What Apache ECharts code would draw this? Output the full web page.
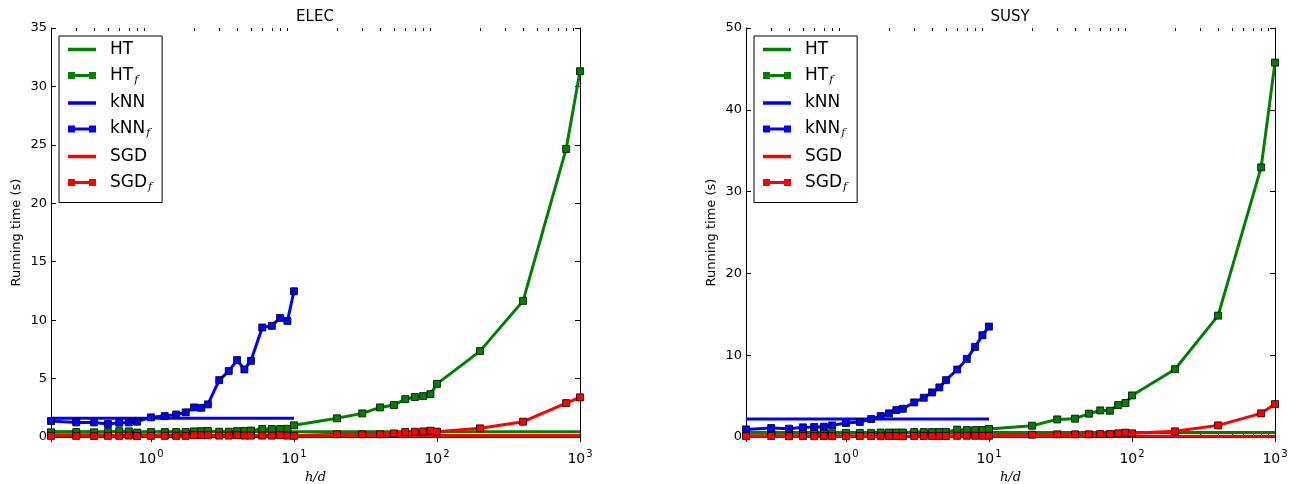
<!DOCTYPE html>
<html>
<head>
<meta charset="utf-8">
<script src="https://cdn.jsdelivr.net/npm/echarts@6/dist/echarts.min.js"></script>
<style>
  html, body { margin: 0; padding: 0; background: #fff; }
  #main { width: 1299px; height: 484px; }
</style>
</head>
<body>
<div id="main"></div>
<script>
// h/d values where the running time was measured
var xAll = [0.2, 0.3, 0.4, 0.5, 0.6, 0.7, 0.8, 1, 1.25, 1.5, 1.75, 2, 2.25, 2.5, 3, 3.5, 4, 4.5, 5, 6, 7, 8, 9, 10,
            20, 30, 40, 50, 60, 70, 80, 90, 100, 200, 400, 800, 1000];
var xKnn = [0.2, 0.3, 0.4, 0.5, 0.6, 0.7, 0.8, 1, 1.25, 1.5, 1.75, 2, 2.25, 2.5, 3, 3.5, 4, 4.5, 5, 6, 7, 8, 9, 10];
// the flat reference lines span these x ranges
var xFlat = [0.2, 1000];
var xFlatKnn = [0.2, 10];

// ELEC
var elecHT = [0.45, 0.45];
var elecKnn = [1.6, 1.6];
var elecSGD = [0.12, 0.12];
var elecHTf = [0.4, 0.42, 0.4, 0.42, 0.5, 0.48, 0.38, 0.42, 0.42, 0.42, 0.42, 0.48, 0.5, 0.52, 0.45, 0.45, 0.5, 0.52, 0.55, 0.68, 0.68, 0.68, 0.7, 1.0,
               1.6, 2.02, 2.53, 2.73, 3.24, 3.42, 3.5, 3.67, 4.55, 7.35, 11.65, 24.65, 31.3];
var elecKnnf = [1.37, 1.25, 1.25, 1.11, 1.22, 1.25, 1.31, 1.68, 1.79, 1.93, 2.11, 2.53, 2.5, 2.79, 4.87, 5.64, 6.58, 5.78, 6.52, 9.37, 9.51, 10.19, 9.93, 12.47];
var elecSGDf = [0.1, 0.1, 0.08, 0.1, 0.1, 0.12, 0.08, 0.1, 0.1, 0.1, 0.1, 0.15, 0.15, 0.15, 0.12, 0.12, 0.15, 0.12, 0.12, 0.12, 0.12, 0.15, 0.12, 0.1,
                0.23, 0.23, 0.23, 0.31, 0.43, 0.45, 0.48, 0.54, 0.46, 0.74, 1.31, 2.9, 3.39];

// SUSY
var susyHT = [0.55, 0.55];
var susyKnn = [2.2, 2.2];
var susySGD = [0.1, 0.1];
var susyHTf = [0.5, 0.45, 0.45, 0.45, 0.5, 0.5, 0.45, 0.5, 0.5, 0.5, 0.55, 0.55, 0.55, 0.55, 0.6, 0.6, 0.6, 0.62, 0.62, 0.9, 0.85, 0.85, 0.85, 0.98,
               1.38, 2.15, 2.24, 2.85, 3.25, 3.21, 3.9, 4.15, 5.08, 8.29, 14.84, 32.96, 45.77];
var susyKnnf = [0.93, 1.1, 1.02, 1.18, 1.22, 1.26, 1.42, 1.71, 1.83, 2.2, 2.56, 2.89, 3.29, 3.45, 4.23, 4.8, 5.45, 6.06, 6.95, 8.25, 9.55, 11.02, 12.44, 13.5];
var susySGDf = [0.1, 0.12, 0.1, 0.12, 0.1, 0.12, 0.1, 0.1, 0.12, 0.12, 0.1, 0.12, 0.12, 0.1, 0.12, 0.12, 0.12, 0.12, 0.12, 0.15, 0.15, 0.15, 0.15, 0.15,
                0.28, 0.33, 0.33, 0.33, 0.37, 0.37, 0.45, 0.53, 0.45, 0.69, 1.42, 2.89, 4.02];

// log-axis minor ticks (2..9 of each decade)
var minorTicks = [0.3, 0.4, 0.5, 0.6, 0.7, 0.8, 0.9, 2, 3, 4, 5, 6, 7, 8, 9,
                  20, 30, 40, 50, 60, 70, 80, 90, 200, 300, 400, 500, 600, 700, 800, 900];

var legendNames = ['HT', 'HT_f', 'kNN', 'kNN_f', 'SGD', 'SGD_f'];
var GREEN = '#008000', BLUE = '#0000ff', RED = '#ff0000';
var FONT = 'DejaVu Sans, sans-serif';

function pairs(xs, ys) {
  return xs.map(function (x, i) { return [x, ys[i]]; });
}

var chartDom = document.getElementById('main');
var myChart = echarts.init(chartDom);

function flatLine(name, color, xs, ys, idx) {
  return {
    name: name, type: 'line', xAxisIndex: idx * 2, yAxisIndex: idx * 2,
    data: pairs(xs, ys), symbol: 'none', color: color,
    lineStyle: { color: color, width: 3 },
    emphasis: { disabled: true }, silent: true
  };
}

function markedLine(name, color, xs, ys, idx) {
  return {
    name: name, type: 'line', xAxisIndex: idx * 2, yAxisIndex: idx * 2,
    data: pairs(xs, ys), symbol: 'rect', symbolSize: 7, showSymbol: true, color: color,
    lineStyle: { color: color, width: 3 },
    itemStyle: { color: color, borderColor: '#000', borderWidth: 0.8 },
    emphasis: { disabled: true }, silent: true
  };
}

function minorTickSeries(idx) {
  return {
    type: 'custom', xAxisIndex: idx * 2, yAxisIndex: idx * 2, silent: true,
    data: minorTicks.map(function (v) { return [v, 0]; }),
    clip: false,
    renderItem: function (params, api) {
      var x = Math.round(api.coord([api.value(0), 0])[0]) + 0.5;
      var cs = params.coordSys;
      var st = { stroke: '#000', lineWidth: 1 };
      return {
        type: 'group',
        children: [
          { type: 'line', shape: { x1: x, y1: cs.y + cs.height, x2: x, y2: cs.y + cs.height - 3 }, style: st },
          { type: 'line', shape: { x1: x, y1: cs.y, x2: x, y2: cs.y + 3 }, style: st }
        ]
      };
    }
  };
}

function powerLabel(v) {
  var e = Math.round(Math.log10(v));
  if (Math.abs(v - Math.pow(10, e)) > 1e-9 * v) return '';
  return '{b|10}{e|' + e + '}';
}

function xAxes(grid) {
  var common = {
    type: 'log', logBase: 10, min: 0.2, max: 1000, gridIndex: grid,
    splitLine: { show: false },
    axisLine: { lineStyle: { color: '#000', width: 1 } },
    axisTick: { inside: true, length: 5, lineStyle: { color: '#000' } }
  };
  return [
    Object.assign({}, common, {
      position: 'bottom',
      name: 'h/d', nameLocation: 'middle', nameGap: 28,
      nameTextStyle: { fontFamily: 'DejaVu Serif, serif', fontStyle: 'italic', fontSize: 13, color: '#000' },
      axisLabel: {
        margin: 12, formatter: powerLabel,
        rich: {
          b: { fontFamily: FONT, fontSize: 14, color: '#000', verticalAlign: 'bottom' },
          e: { fontFamily: FONT, fontSize: 10, color: '#000', verticalAlign: 'bottom', padding: [0, 0, 7, 1] }
        }
      }
    }),
    Object.assign({}, common, { position: 'top', axisLabel: { show: false } })
  ];
}

function yAxes(grid, max, step) {
  var common = {
    type: 'value', min: 0, max: max, interval: step, gridIndex: grid,
    splitLine: { show: false },
    axisLine: { show: true, lineStyle: { color: '#000', width: 1 } },
    axisTick: { show: true, inside: true, length: 5, lineStyle: { color: '#000' } }
  };
  return [
    Object.assign({}, common, {
      position: 'left',
      name: 'Running time (s)', nameLocation: 'middle', nameGap: 28, nameRotate: 90,
      nameTextStyle: { fontFamily: FONT, fontSize: 13, color: '#000' },
      axisLabel: { margin: 4, fontFamily: FONT, fontSize: 13, color: '#000' }
    }),
    Object.assign({}, common, { position: 'right', axisLabel: { show: false } })
  ];
}

var LINE_ICON = 'path://M0,0H28V3.5H0Z';
var MARK_ICON = 'path://M0,0H7V7H0Z M7,2H21V5H7Z M21,0H28V7H21Z';

function legendFor(left) {
  return {
    orient: 'vertical', left: left, top: 36,
    padding: [5, 10, 10, 9],
    borderColor: '#000', borderWidth: 1, borderRadius: 0,
    itemWidth: 28, itemHeight: 8, itemGap: 9,
    selectedMode: false,
    data: legendNames.map(function (n) {
      return { name: n, icon: n.indexOf('_') < 0 ? LINE_ICON : MARK_ICON, itemStyle: { borderWidth: 0 } };
    }),
    formatter: function (n) {
      var p = n.split('_');
      return '{n|' + p[0] + '}' + (p[1] ? '{s|' + p[1] + '}' : '');
    },
    textStyle: {
      rich: {
        n: { fontFamily: FONT, fontSize: 17, color: '#000', lineHeight: 18, padding: [0, 0, 0, 9] },
        s: { fontFamily: 'DejaVu Serif, serif', fontStyle: 'italic', fontSize: 11, color: '#000', padding: [9, 0, 0, 1] }
      }
    }
  };
}

var option = {
  animation: false,
  title: [
    { text: 'ELEC', left: 310, top: 5, textAlign: 'center',
      textStyle: { fontFamily: FONT, fontSize: 15, fontWeight: 'normal', color: '#000' } },
    { text: 'SUSY', left: 1005, top: 5, textAlign: 'center',
      textStyle: { fontFamily: FONT, fontSize: 15, fontWeight: 'normal', color: '#000' } }
  ],
  legend: [legendFor(59), legendFor(754)],
  grid: [
    { left: 51, top: 28, width: 529, height: 409, outerBoundsMode: 'none', containLabel: false },
    { left: 746, top: 28, width: 529, height: 409, outerBoundsMode: 'none', containLabel: false }
  ],
  xAxis: xAxes(0).concat(xAxes(1)),
  yAxis: yAxes(0, 35, 5).concat(yAxes(1, 50, 10)),
  series: [
    flatLine('HT', GREEN, xFlat, elecHT, 0),
    markedLine('HT_f', GREEN, xAll, elecHTf, 0),
    flatLine('kNN', BLUE, xFlatKnn, elecKnn, 0),
    markedLine('kNN_f', BLUE, xKnn, elecKnnf, 0),
    flatLine('SGD', RED, xFlat, elecSGD, 0),
    markedLine('SGD_f', RED, xAll, elecSGDf, 0),
    minorTickSeries(0),
    flatLine('HT', GREEN, xFlat, susyHT, 1),
    markedLine('HT_f', GREEN, xAll, susyHTf, 1),
    flatLine('kNN', BLUE, xFlatKnn, susyKnn, 1),
    markedLine('kNN_f', BLUE, xKnn, susyKnnf, 1),
    flatLine('SGD', RED, xFlat, susySGD, 1),
    markedLine('SGD_f', RED, xAll, susySGDf, 1),
    minorTickSeries(1)
  ]
};

myChart.setOption(option);
window.addEventListener('resize', function () { myChart.resize(); });
</script>
</body>
</html>
